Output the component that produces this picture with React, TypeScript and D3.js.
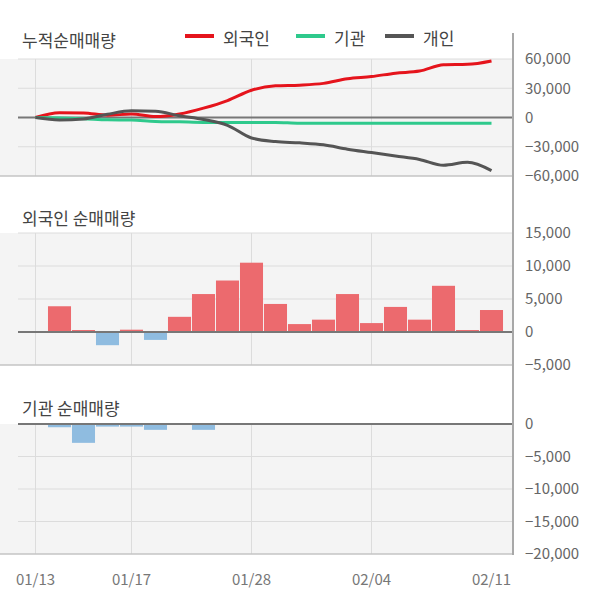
import React from "react";
import * as d3 from "d3";

const dates = ["01/13","01/14","01/15","01/16","01/17","01/20","01/21","01/22","01/23","01/28","01/29","01/30","01/31","02/03","02/04","02/05","02/06","02/07","02/10","02/11"];
const tickDates = ["01/13","01/17","01/28","02/04","02/11"];
const gridDates = ["01/13","01/17","01/28","02/04"];

const foreignCum = [0,5000,4700,2400,3500,900,3600,9600,17400,28000,32500,33200,35000,39800,42000,45500,47600,54000,54500,58000];
const instCum = [0,-500,-1200,-2300,-2600,-4000,-4400,-5000,-5000,-5000,-5000,-6000,-6000,-6000,-6000,-6000,-6000,-6000,-6000,-6000];
const indivCum = [0,-2500,-1500,3300,6800,6400,1800,-2000,-8000,-21000,-24700,-26000,-28000,-32500,-36000,-39500,-43000,-49000,-46000,-54500];

const foreignDaily = [0,3900,300,-2000,350,-1200,2300,5750,7800,10500,4250,1200,1870,5750,1350,3800,1870,7000,300,3330];
const instDaily = [0,-500,-2900,-400,-400,-900,0,-900,0,0,0,0,0,0,0,0,0,0,0,0];

const cumTicks = [60000,30000,0,-30000,-60000];
const foreignTicks = [15000,10000,5000,0,-5000];
const instTicks = [0,-5000,-10000,-15000,-20000];

const seriesNames = ["외국인","기관","개인"];
const seriesColors = ["#e5141c","#2ec98c","#555555"];

const FONT = "'Noto Sans CJK KR', 'Noto Sans', sans-serif";
const LEFT = 0;
const GRID_LEFT = 18;
const RIGHT = 513;

export default function App() {
  const x = d3.scaleBand<string>().domain(dates).range([23.5, 503.5]).paddingInner(0.04).paddingOuter(0.02);
  const cx = (d: string) => (x(d) as number) + x.bandwidth() / 2;
  const fmt = d3.format(",");

  const yCum = d3.scaleLinear().domain([-60000, 60000]).range([176, 59]);
  const yF = d3.scaleLinear().domain([-5000, 15000]).range([365, 233]);
  const yI = d3.scaleLinear().domain([-20000, 0]).range([554, 424]);

  const line = (vals: number[]) =>
    d3.line<number>().x((_, i) => cx(dates[i])).y((v) => yCum(v)).curve(d3.curveMonotoneX)(vals) || "";

  const panel = (
    y: d3.ScaleLinear<number, number>,
    ticks: number[],
    top: number,
    bottom: number,
    key: string
  ) => (
    <g key={key}>
      <rect x={LEFT} y={top} width={RIGHT - LEFT} height={bottom - top} fill="#f4f4f4" />
      {gridDates.map((d) => (
        <line key={d} x1={cx(d)} x2={cx(d)} y1={top} y2={bottom} stroke="#dcdcdc" strokeWidth={1} />
      ))}
      {ticks.filter((t) => t !== 0 && y(t) > top - 1 && y(t) < bottom - 1).map((t) => (
        <line key={t} x1={GRID_LEFT} x2={RIGHT} y1={y(t)} y2={y(t)} stroke="#dcdcdc" strokeWidth={1} />
      ))}
      <line x1={LEFT} x2={RIGHT} y1={bottom} y2={bottom} stroke="#c4c4c4" strokeWidth={1.5} />
      {ticks.map((t) => (
        <text key={"l" + t} x={525} y={y(t)} dy="0.35em" fontSize={15} fill="#666" fontFamily={FONT}>
          {fmt(t)}
        </text>
      ))}
    </g>
  );

  return (
    <svg width={600} height={604} style={{ position: "absolute", left: 0, top: 0, display: "block", background: "#fff" }}>
      {panel(yCum, cumTicks, 59, 176, "p1")}
      {panel(yF, foreignTicks, 233, 365, "p2")}
      {panel(yI, instTicks, 424, 554, "p3")}

      {/* cumulative lines */}
      <line x1={GRID_LEFT} x2={RIGHT} y1={yCum(0)} y2={yCum(0)} stroke="#777" strokeWidth={2} />
      {[foreignCum, instCum, indivCum].map((vals, i) => (
        <path key={i} d={line(vals)} fill="none" stroke={seriesColors[i]} strokeWidth={3} />
      ))}

      {/* foreign daily bars */}
      {foreignDaily.map((v, i) =>
        v === 0 ? null : (
          <rect key={i} x={x(dates[i])} width={x.bandwidth()} y={Math.min(yF(v), yF(0))} height={Math.abs(yF(v) - yF(0))}
            fill={v > 0 ? "#ec6a6e" : "#8fbce0"} />
        )
      )}
      <line x1={GRID_LEFT} x2={RIGHT} y1={yF(0)} y2={yF(0)} stroke="#777" strokeWidth={2} />

      {/* institution daily bars */}
      {instDaily.map((v, i) =>
        v >= 0 ? null : (
          <rect key={i} x={x(dates[i])} width={x.bandwidth()} y={yI(0)} height={yI(v) - yI(0)} fill="#8fbce0" />
        )
      )}
      <line x1={GRID_LEFT} x2={RIGHT} y1={yI(0)} y2={yI(0)} stroke="#777" strokeWidth={2} />

      {/* right axis line */}
      <line x1={RIGHT} x2={RIGHT} y1={33} y2={555} stroke="#a8a8a8" strokeWidth={2} />

      {/* titles */}
      <text x={22} y={47} fontSize={17} fill="#444" fontFamily={FONT}>누적순매매량</text>
      <text x={22} y={225} fontSize={17} fill="#444" fontFamily={FONT}>외국인 순매매량</text>
      <text x={22} y={415} fontSize={17} fill="#444" fontFamily={FONT}>기관 순매매량</text>

      {/* legend */}
      {seriesNames.map((n, i) => {
        const lx = [185, 296, 385][i];
        return (
          <g key={n}>
            <line x1={lx} x2={lx + 29} y1={36} y2={36} stroke={seriesColors[i]} strokeWidth={4} />
            <text x={lx + 38} y={45} fontSize={17} fill="#444" fontFamily={FONT}>{n}</text>
          </g>
        );
      })}

      {/* x tick labels */}
      {tickDates.map((d) => (
        <text key={d} x={cx(d)} y={580} dy="0.35em" textAnchor="middle" fontSize={15} fill="#777" fontFamily={FONT}>
          {d}
        </text>
      ))}
    </svg>
  );
}
